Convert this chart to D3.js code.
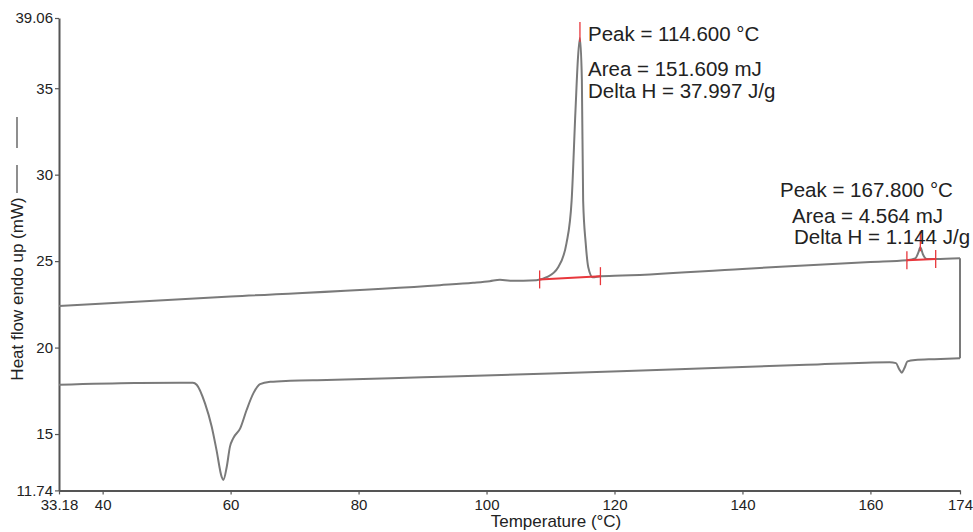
<!DOCTYPE html>
<html>
<head>
<meta charset="utf-8">
<script src="https://cdn.jsdelivr.net/npm/d3@7"></script>
<style>
  body { margin: 0; background: #fff; }
  svg text { font-family: "Liberation Sans", Arial, sans-serif; fill: #222; }
</style>
</head>
<body>
<div id="chart"></div>
<script>
// DSC thermogram: heating run then cooling run

const xTicks = [33.18, 40, 60, 80, 100, 120, 140, 160, 174];
const yTicks = [11.74, 15, 20, 25, 30, 35, 39.06];

// heating curve (upper)
const heatTemp = [33.18, 60, 92.7, 97.9, 100.5, 102.1, 103.7, 107.8, 109.4, 111.2, 112.5, 113.3, 113.9, 114.3, 114.6, 114.9, 115.1, 115.5, 115.9, 116.6, 117.8, 120, 140, 160, 165.7, 167.0, 167.5, 167.8, 168.2, 168.8, 170.2, 174];
const heatFlow = [22.4, 22.95, 23.61, 23.75, 23.84, 23.92, 23.87, 23.9, 24.07, 24.65, 26.04, 28.5, 33.7, 36.8, 37.9, 35.5, 28.5, 26.04, 24.65, 24.07, 24.13, 24.15, 24.55, 24.95, 25.05, 25.15, 25.5, 25.8, 25.4, 25.12, 25.12, 25.16];

// cooling curve (lower), recorded from 174 back down
const coolTemp = [174, 170, 167, 165.8, 165.3, 164.9, 164.5, 164, 163, 150, 130, 110, 90, 75, 69.3, 66.2, 64.6, 63.55, 62.5, 61.5, 60.4, 59.9, 59.4, 58.86, 58.6, 57.8, 57.05, 56.0, 54.7, 54.1, 52, 45, 33.18];
const coolFlow = [19.38, 19.33, 19.28, 19.2, 18.8, 18.55, 18.75, 19.1, 19.15, 19.0, 18.75, 18.5, 18.28, 18.12, 18.08, 18.02, 17.89, 17.35, 16.39, 15.33, 14.75, 14.27, 13.11, 12.34, 12.53, 14.07, 15.42, 16.77, 17.85, 17.97, 17.97, 17.95, 17.85];

// integration results
const peakTemp = [114.6, 167.8];
const peakTop = [37.9, 25.8];
const baseStartTemp = [108.3, 165.7];
const baseStartFlow = [23.94, 25.05];
const baseEndTemp = [117.8, 170.2];
const baseEndFlow = [24.13, 25.12];
const peakLabels = [
  ["Peak = 114.600 °C", "Area = 151.609 mJ", "Delta H = 37.997 J/g"],
  ["Peak = 167.800 °C", "Area = 4.564 mJ", "Delta H = 1.144 J/g"]
];

const width = 973, height = 532;
const margin = { top: 18, right: 13, bottom: 41.6, left: 59 };

const svg = d3.select("#chart")
  .append("svg")
  .attr("width", width)
  .attr("height", height);

const x = d3.scaleLinear()
  .domain([33.18, 174])
  .range([margin.left, width - margin.right]);

const y = d3.scaleLinear()
  .domain([11.74, 39.06])
  .range([height - margin.bottom, margin.top]);

// axes
const xAxis = svg.append("g")
  .attr("transform", `translate(0,${height - margin.bottom})`)
  .call(d3.axisBottom(x).tickValues(xTicks).tickSize(4).tickSizeOuter(0).tickPadding(5)
    .tickFormat(d => d));

const yAxis = svg.append("g")
  .attr("transform", `translate(${margin.left},0)`)
  .call(d3.axisLeft(y).tickValues(yTicks).tickSize(4).tickSizeOuter(0).tickPadding(2)
    .tickFormat(d => d));

[xAxis, yAxis].forEach(g => {
  g.select(".domain").attr("stroke", "#555").attr("stroke-width", 2);
  g.selectAll(".tick line").attr("stroke", "#555").attr("stroke-width", 1.2);
  g.selectAll(".tick text").style("font-size", "15px").attr("fill", "#222");
});

// axis titles
svg.append("text")
  .attr("x", 556)
  .attr("y", 527)
  .attr("text-anchor", "middle")
  .style("font-size", "17px")
  .text("Temperature (°C)");

svg.append("text")
  .attr("transform", "translate(23,289) rotate(-90)")
  .attr("text-anchor", "middle")
  .style("font-size", "17px")
  .text("Heat flow endo up (mW)");

// legend strokes after the y title
svg.append("line")
  .attr("x1", 17).attr("x2", 17).attr("y1", 165).attr("y2", 193)
  .attr("stroke", "#444").attr("stroke-width", 1.2);
svg.append("line")
  .attr("x1", 17).attr("x2", 17).attr("y1", 117).attr("y2", 148)
  .attr("stroke", "#444").attr("stroke-width", 1.2);

// curves: heating, cooling (sorted for monotone x), and the hold segment at 174
const heatPts = heatTemp.map((t, i) => [t, heatFlow[i]]);
const coolPts = coolTemp.map((t, i) => [t, coolFlow[i]]).reverse();

const line = d3.line()
  .x(d => x(d[0]))
  .y(d => y(d[1]))
  .curve(d3.curveMonotoneX);

const curveColor = "#7a7a7a";
[heatPts, coolPts].forEach(p => {
  svg.append("path")
    .datum(p)
    .attr("d", line)
    .attr("fill", "none")
    .attr("stroke", curveColor)
    .attr("stroke-width", 2);
});

svg.append("line")
  .attr("x1", x(heatTemp[heatTemp.length - 1])).attr("y1", y(heatFlow[heatFlow.length - 1]))
  .attr("x2", x(coolTemp[0])).attr("y2", y(coolFlow[0]))
  .attr("stroke", curveColor).attr("stroke-width", 2);

// integration baselines and markers
const red = "#e8373c";
peakTemp.forEach((p, i) => {
  svg.append("line")
    .attr("x1", x(baseStartTemp[i])).attr("y1", y(baseStartFlow[i]))
    .attr("x2", x(baseEndTemp[i])).attr("y2", y(baseEndFlow[i]))
    .attr("stroke", red).attr("stroke-width", 2);
  [[baseStartTemp[i], baseStartFlow[i]], [baseEndTemp[i], baseEndFlow[i]]].forEach(d => {
    svg.append("line")
      .attr("x1", x(d[0])).attr("x2", x(d[0]))
      .attr("y1", y(d[1]) - 9).attr("y2", y(d[1]) + 9)
      .attr("stroke", red).attr("stroke-width", 1.3);
  });
  svg.append("line")
    .attr("x1", x(p)).attr("x2", x(p))
    .attr("y1", y(peakTop[i]) - 16).attr("y2", y(peakTop[i]) + 4)
    .attr("stroke", red).attr("stroke-width", 1.3);
});

// annotation text
const labelPos = [
  [[588, 41], [588, 76], [588, 98]],
  [[780, 197], [792, 223], [794, 244]]
];
peakLabels.forEach((lines, i) => {
  lines.forEach((t, j) => {
    svg.append("text")
      .attr("x", labelPos[i][j][0])
      .attr("y", labelPos[i][j][1])
      .style("font-size", "20.5px")
      .text(t);
  });
});
</script>
</body>
</html>
